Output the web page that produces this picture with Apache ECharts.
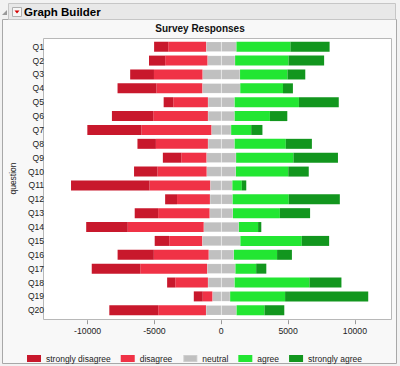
<!DOCTYPE html>
<html><head><meta charset="utf-8">
<script src="https://cdn.jsdelivr.net/npm/echarts@6/dist/echarts.min.js"></script>
<style>html,body{margin:0;padding:0;background:#f2f2f2;}#c{width:400px;height:366px;}</style>
</head><body><div id="c"></div>
<script>
const categories = ['Q1','Q2','Q3','Q4','Q5','Q6','Q7','Q8','Q9','Q10','Q11','Q12','Q13','Q14','Q15','Q16','Q17','Q18','Q19','Q20'];
const stronglyDisagree = [1060,1210,1780,2910,720,3090,4050,1380,1380,1750,5870,890,1750,3110,1090,2710,3630,610,670,3660];
const disagree         = [2830,3160,3630,3430,2590,4090,5230,3890,1880,3680,4540,2460,3850,5680,2460,4100,5000,2440,720,3570];
const neutral          = [2270,2070,2810,2840,2000,2000,1480,2000,2220,2190,1660,1700,1750,2630,2860,1890,2120,2000,1330,2290];
const agree            = [4040,4000,3550,3200,4810,2640,1500,3830,4290,3920,710,4200,3510,1440,4590,3230,1550,5600,4110,2090];
const stronglyAgree    = [2930,2660,1330,740,2980,1300,840,1950,3330,1530,330,3820,2260,240,2050,1110,760,2390,6220,1480];
const xTicks = [-10000,-5000,0,5000,10000];
const legendNames = ['strongly disagree','disagree','neutral','agree','strongly agree'];

const C = {sd:'#c8182c', d:'#f03246', n:'#c0c0c0', a:'#22e632', sa:'#12961e'};
const FONT = 'Liberation Sans';

function bar(name, data, color, bw){
  return {type:'bar', name:name, stack:'s', data:data, barWidth:10,
    itemStyle:{color:color, borderColor:'rgba(255,255,255,0.22)', borderWidth:bw||0}, emphasis:{disabled:true}};
}

const chart = echarts.init(document.getElementById('c'), null, {renderer:'svg'});
chart.setOption({
  animation:false,
  backgroundColor:'#f2f2f2',
  title:{text:'Survey Responses', left:'center', top:23, padding:0,
    textStyle:{fontFamily:FONT, fontSize:10, fontWeight:'bold', color:'#111'}},
  grid:{left:43, right:8, top:39.8, bottom:48.8, containLabel:false},
  xAxis:{type:'value', min:-13040, max:12773, offset:3,
    axisLine:{show:false}, splitLine:{show:false},
    axisTick:{show:true, length:4, customValues:xTicks, lineStyle:{color:'#999'}},
    axisLabel:{customValues:xTicks, margin:6, fontFamily:FONT, fontSize:8.7, color:'#222',
      formatter:function(v){return String(v);}}},
  yAxis:{type:'category', data:categories, inverse:true,
    axisLine:{show:false}, axisTick:{show:false},
    axisLabel:{margin:3, fontFamily:FONT, fontSize:8.5, color:'#222'},
    name:'question', nameLocation:'middle', nameRotate:90, nameGap:26,
    nameTextStyle:{fontFamily:FONT, fontSize:8.5, color:'#222'}},
  legend:{data:legendNames, left:27, top:354, padding:0, itemGap:10,
    itemWidth:14, itemHeight:7, icon:'rect', selectedMode:false,
    textStyle:{fontFamily:FONT, fontSize:8.5, color:'#222'}},
  graphic:{elements:[
    {type:'rect', z:0, shape:{x:2.5,y:19.5,width:394,height:344}, style:{fill:'#f8f8f8', stroke:'#a8a8a8', lineWidth:1}},
    {type:'rect', z:0, shape:{x:8.5,y:3.5,width:387,height:16}, style:{fill:'#e8e8e8', stroke:'#c6c6c6', lineWidth:1}},
    {type:'polygon', z:1, shape:{points:[[2,15],[7,15],[7,10]]}, style:{fill:'#9a9a9a'}},
    {type:'rect', z:1, shape:{x:12.5,y:7.5,width:9,height:9}, style:{fill:'#f6f6f6', stroke:'#b0b0b0', lineWidth:1}},
    {type:'polygon', z:1, shape:{points:[[14.5,10.5],[19.5,10.5],[17,13.5]]}, style:{fill:'#d40000'}},
    {type:'text', z:1, x:24, y:12, style:{text:'Graph Builder', fontFamily:FONT, fontSize:11.5, fontWeight:'bold', fill:'#000', verticalAlign:'middle'}},
    {type:'rect', z:0, shape:{x:43.5,y:38.5,width:348,height:281}, style:{fill:'#ffffff', stroke:'#b8b8b8', lineWidth:1}}
  ]},
  series:[
    bar('neutral', neutral.map(v=>-v/2), C.n, 0.5),
    bar('disagree', disagree.map(v=>-v), C.d),
    bar('strongly disagree', stronglyDisagree.map(v=>-v), C.sd),
    bar('neutral', neutral.map(v=>v/2), C.n, 0.5),
    bar('agree', agree, C.a),
    bar('strongly agree', stronglyAgree, C.sa)
  ]
});
</script></body></html>
